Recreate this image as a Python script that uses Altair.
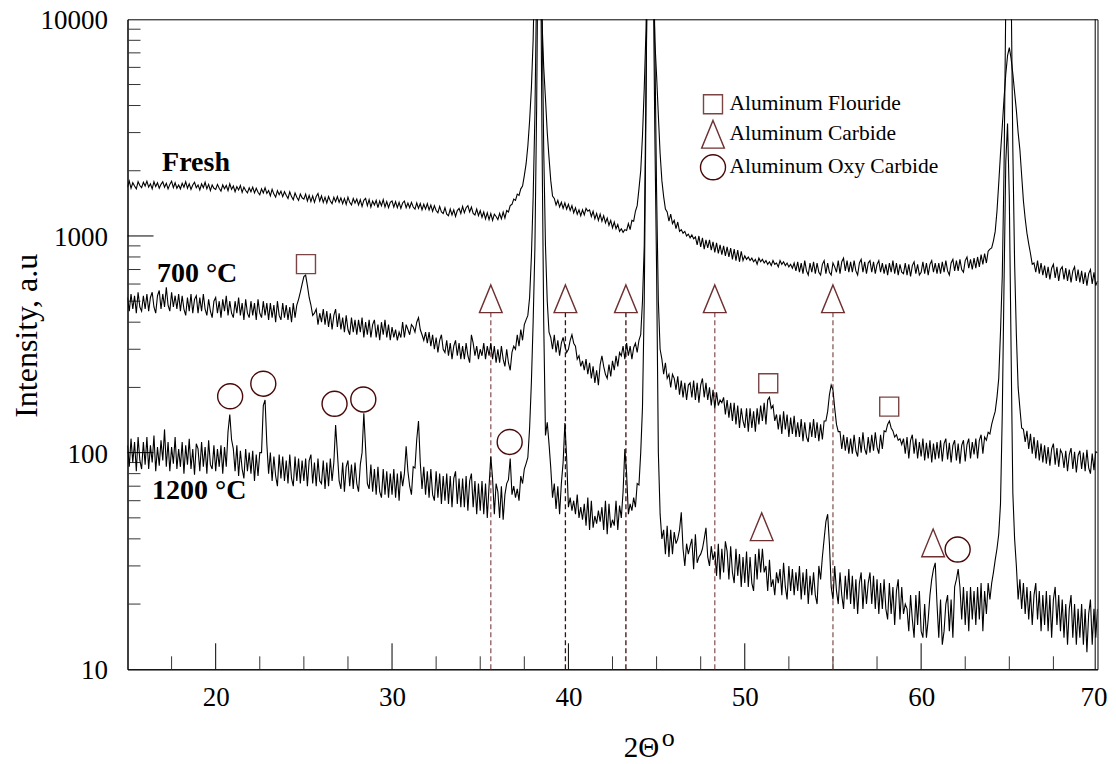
import altair as alt
import pandas as pd

# ---------------- data (0.1 degree steps from 15.0 to 70.0) ----------------
two_theta = [round(15 + i / 10, 1) for i in range(551)]

fresh = (
    [1680,1790,1660,1760,1700,1650,1780,1710,1670,1770] +  # 15
    [1700,1790,1680,1740,1650,1780,1690,1760,1660,1730] +  # 16
    [1780,1680,1750,1650,1730,1790,1670,1760,1660,1720] +  # 17
    [1650,1750,1680,1780,1660,1740,1640,1720,1770,1670] +  # 18
    [1720,1630,1740,1670,1770,1650,1730,1620,1720,1660] +  # 19
    [1640,1730,1660,1610,1720,1650,1710,1620,1740,1640] +  # 20
    [1700,1600,1690,1630,1710,1590,1680,1620,1580,1670] +  # 21
    [1600,1680,1580,1660,1590,1550,1650,1580,1670,1570] +  # 22
    [1620,1530,1640,1560,1510,1620,1550,1610,1520,1600] +  # 23
    [1540,1490,1600,1520,1470,1580,1510,1460,1560,1500] +  # 24
    [1480,1560,1450,1540,1440,1530,1430,1520,1570,1450] +  # 25
    [1530,1430,1510,1420,1520,1450,1410,1510,1440,1520] +  # 26
    [1430,1500,1410,1490,1400,1510,1430,1390,1490,1420] +  # 27
    [1480,1390,1470,1370,1460,1490,1380,1470,1360,1450] +  # 28
    [1390,1460,1350,1450,1380,1470,1360,1440,1350,1430] +  # 29
    [1450,1360,1440,1350,1430,1340,1420,1450,1350,1420] +  # 30
    [1350,1430,1360,1330,1420,1340,1410,1320,1400,1330] +  # 31
    [1410,1320,1390,1300,1380,1310,1280,1370,1290,1270] +  # 32
    [1350,1260,1240,1330,1250,1320,1230,1310,1340,1270] +  # 33
    [1370,1280,1350,1380,1290,1360,1270,1250,1330,1240] +  # 34
    [1310,1220,1290,1200,1280,1190,1270,1180,1260,1230] +  # 35
    [1190,1270,1200,1290,1210,1310,1290,1380,1400,1480] +  # 36
    [1460,1560,1540,1650,1700,1900,2150,2600,3400,4800] +  # 37
    [8000,20000,40000,40000,25000,10000,6000,4300,3000,2300] +  # 38
    [1800,1530,1490,1390,1460,1360,1430,1340,1420,1330] +  # 39
    [1400,1310,1380,1280,1350,1260,1320,1240,1320,1250] +  # 40
    [1340,1300,1320,1230,1300,1200,1270,1180,1260,1170] +  # 41
    [1240,1150,1210,1120,1180,1090,1160,1080,1130,1050] +  # 42
    [1080,1040,1070,1060,1140,1070,1180,1170,1300,1380] +  # 43
    [1650,2000,2900,4800,9000,25000,40000,40000,18000,8000] +  # 44
    [5500,3600,2400,1800,1520,1330,1290,1170,1260,1140] +  # 45
    [1180,1080,1160,1050,1070,1030,1050,1000,1020,980] +  # 46
    [1010,970,990,910,1000,890,980,870,960,880] +  # 47
    [960,860,940,840,930,830,910,820,900,810] +  # 48
    [890,800,880,780,870,770,860,760,850,770] +  # 49
    [810,780,800,770,790,760,780,740,790,760] +  # 50
    [780,750,770,740,760,730,770,740,750,720] +  # 51
    [770,740,760,730,750,720,740,710,750,690] +  # 52
    [760,680,750,670,770,690,660,750,680,760] +  # 53
    [670,750,680,660,740,770,670,750,680,660] +  # 54
    [750,720,680,770,670,760,790,690,770,680] +  # 55
    [760,680,770,690,660,750,780,680,760,670] +  # 56
    [750,770,680,760,670,740,770,680,750,670] +  # 57
    [740,660,750,680,770,670,750,660,740,680] +  # 58
    [670,750,660,740,650,730,760,670,740,660] +  # 59
    [680,760,670,750,660,740,770,680,750,670] +  # 60
    [750,670,760,680,770,690,660,750,780,690] +  # 61
    [770,690,780,700,680,770,800,710,780,700] +  # 62
    [790,710,800,720,820,740,830,750,850,870] +  # 63
    [880,950,1050,1300,1750,2400,3200,4300,5600,6800] +  # 64
    [7400,6600,5600,4600,3800,3000,2500,1900,1450,1200] +  # 65
    [1030,920,830,740,750,680,770,670,750,660] +  # 66
    [730,640,720,630,710,740,640,720,620,700] +  # 67
    [720,630,710,620,700,610,690,720,620,700] +  # 68
    [610,690,600,680,590,670,700,600,680,590] +  # 69
    [620]
)

c700 = (
    [520,450,540,460,530,440,550,470,450,530] +  # 15
    [460,540,450,520,550,470,440,530,560,460] +  # 16
    [540,470,580,480,450,550,470,530,460,540] +  # 17
    [450,530,460,430,520,450,540,440,510,530] +  # 18
    [440,520,450,540,460,430,510,450,420,500] +  # 19
    [520,440,500,420,510,450,530,430,500,440] +  # 20
    [420,500,440,520,430,490,410,510,440,420] +  # 21
    [500,430,490,410,510,440,420,500,430,490] +  # 22
    [410,490,420,480,400,500,430,410,490,420] +  # 23
    [480,410,470,400,490,420,480,510,550,600] +  # 24
    [650,660,590,520,480,430,440,460,390,440] +  # 25
    [400,460,390,450,380,440,370,430,460,380] +  # 26
    [440,370,420,360,430,370,350,420,360,410] +  # 27
    [350,410,360,420,340,400,350,410,340,390] +  # 28
    [410,340,390,330,400,350,410,340,390,330] +  # 29
    [380,340,370,330,360,340,400,340,390,370] +  # 30
    [350,390,380,360,400,420,370,350,330,360] +  # 31
    [320,360,310,350,300,340,290,330,350,300] +  # 32
    [290,330,280,320,270,310,330,280,320,270] +  # 33
    [310,270,320,280,260,350,320,280,310,270] +  # 34
    [300,280,320,270,310,280,320,270,310,260] +  # 35
    [300,260,310,270,250,300,260,240,290,310] +  # 36
    [300,350,310,370,330,390,410,430,520,800] +  # 37
    [1500,3600,15000,40000,40000,12000,2500,900,500,360] +  # 38
    [340,300,350,290,330,280,320,340,310,290] +  # 39
    [300,330,350,320,310,270,280,250,265,240] +  # 40
    [270,230,260,220,250,210,240,205,255,280] +  # 41
    [250,230,220,255,225,265,240,280,250,290] +  # 42
    [280,310,270,320,280,310,270,305,320,290] +  # 43
    [330,350,500,900,5000,30000,40000,40000,30000,8000] +  # 44
    [1600,500,300,270,230,260,220,230,200,230] +  # 45
    [220,195,225,185,215,180,210,175,205,210] +  # 46
    [180,215,175,210,170,205,220,180,210,175] +  # 47
    [200,165,195,160,190,165,175,170,180,150] +  # 48
    [175,145,170,140,170,135,165,130,160,140] +  # 49
    [130,160,125,160,130,155,125,160,135,165] +  # 50
    [140,170,135,175,180,160,165,140,150,128] +  # 51
    [150,122,155,128,150,118,145,122,148,118] +  # 52
    [138,118,143,113,138,118,112,138,118,143] +  # 53
    [117,138,113,135,115,140,140,155,185,205] +  # 54
    [195,160,135,125,125,104,121,102,118,99] +  # 55
    [116,99,121,102,96,118,100,124,104,98] +  # 56
    [118,100,121,102,124,106,99,121,104,126] +  # 57
    [125,135,140,130,126,118,121,114,116,109] +  # 58
    [116,99,118,94,114,121,99,116,94,112] +  # 59
    [96,116,92,111,94,114,90,110,93,112] +  # 60
    [94,114,91,110,116,93,111,90,108,114] +  # 61
    [92,110,89,108,114,91,109,116,94,112] +  # 62
    [98,116,94,114,121,99,118,114,124,122] +  # 63
    [135,145,155,180,220,360,650,2000,12000,40000] +  # 64
    [40000,15000,2500,750,350,200,160,130,128,112] +  # 65
    [126,104,122,99,118,94,114,92,110,90] +  # 66
    [108,89,106,87,104,110,88,105,86,103] +  # 67
    [99,85,102,82,98,105,84,101,81,97] +  # 68
    [102,84,100,82,103,85,80,99,83,101] +  # 69
    [100]
)

c1200 = (
    [108,86,116,90,112,82,118,92,84,112] +  # 15
    [88,118,84,108,90,120,82,106,87,114] +  # 16
    [92,128,86,112,82,106,89,118,84,104] +  # 17
    [86,112,80,108,88,116,84,104,79,110] +  # 18
    [104,82,112,86,106,80,114,88,84,108] +  # 19
    [82,104,86,108,80,106,86,125,150,115] +  # 20
    [104,82,108,78,102,84,76,104,82,100] +  # 21
    [80,102,74,98,78,100,100,165,175,110] +  # 22
    [80,100,74,96,78,70,98,76,96,74] +  # 23
    [92,72,98,76,70,96,74,94,72,92] +  # 24
    [74,94,70,92,98,72,90,70,94,74] +  # 25
    [72,92,68,90,70,94,74,90,134,100] +  # 26
    [74,68,90,66,86,92,70,88,68,90] +  # 27
    [72,66,88,100,152,105,72,68,88,66] +  # 28
    [84,64,86,66,62,84,64,82,62,80] +  # 29
    [64,84,62,80,60,82,70,80,107,82] +  # 30
    [70,64,86,85,115,140,90,68,86,64] +  # 31
    [82,62,84,64,60,82,62,80,58,78] +  # 32
    [60,80,58,78,56,76,82,58,76,56] +  # 33
    [76,56,78,54,74,80,56,74,52,72] +  # 34
    [54,74,52,72,50,70,96,76,52,72] +  # 35
    [66,50,70,49,64,72,75,94,64,70] +  # 36
    [62,68,60,78,72,84,89,95,130,210] +  # 37
    [400,880,4000,40000,40000,3000,400,120,138,110] +  # 38
    [85,62,72,55,70,52,72,90,137,95] +  # 39
    [56,62,54,60,52,64,50,56,49,58] +  # 40
    [46,62,44,60,45,51,47,54,48,56] +  # 41
    [44,60,42,58,45,49,46,60,44,57] +  # 42
    [50,66,104,80,52,58,54,62,56,72] +  # 43
    [71,100,162,500,4000,40000,40000,40000,20000,3000] +  # 44
    [700,100,52,40,44,34,46,33,44,34] +  # 45
    [43,38,40,44,53,36,30,38,34,37] +  # 46
    [40,29,42,31,33,34,36,40,45,33] +  # 47
    [30,37,32,35,27,38,26,36,28,39] +  # 48
    [35,26,37,28,25,36,27,34,24,33] +  # 49
    [25,35,24,33,25,23,34,26,36,28] +  # 50
    [36,28,30,23,32,24,26,22,28,25] +  # 51
    [29,22,31,24,21,30,23,29,22,28] +  # 52
    [23,30,21,28,22,29,20,27,22,28] +  # 53
    [22,20,30,26,33,40,48,52,38,24] +  # 54
    [21,30,23,20,28,22,19,27,21,29] +  # 55
    [20,27,19,26,18,25,28,19,26,20] +  # 56
    [25,28,20,27,19,26,18,25,19,26] +  # 57
    [19,17,25,18,24,16,23,26,17,24] +  # 58
    [18,20,19,15,22,17,14,22,16,23] +  # 59
    [15,14,20,14,17,22,26,29,31,20] +  # 60
    [14,21,13,15,20,22,15,21,14,24] +  # 61
    [26,29,24,17,24,16,23,15,24,17] +  # 62
    [23,16,24,17,25,15,23,18,25,21] +  # 63
    [25,28,32,36,42,58,150,600,2200,3300] +  # 64
    [1500,300,65,40,30,21,26,19,25,18] +  # 65
    [24,17,23,16,22,25,17,23,15,22] +  # 66
    [16,23,15,22,14,21,24,16,22,15] +  # 67
    [21,14,20,13,19,22,14,20,13,19] +  # 68
    [14,20,13,19,12,18,21,13,19,14] +  # 69
    [19]
)

series_names = ["Fresh", "700 °C", "1200 °C"]
series_label_x = [16.96, 16.67, 16.39]
series_label_y = [2173, 668, 66.6]

phase_names = ["Aluminum Flouride", "Aluminum Carbide", "Aluminum Oxy Carbide"]
fluoride_x = [25.12, 51.33, 58.19]
fluoride_y = [741, 209, 163]
carbide_x = [35.6, 39.83, 43.26, 48.3, 55.0, 50.96, 60.68]
carbide_y = [513, 513, 513, 513, 513, 45.5, 38.3]
oxycarbide_x = [20.82, 22.70, 26.74, 28.37, 36.67, 62.07]
oxycarbide_y = [182, 208, 168, 176, 112, 35.7]

guide_x = [35.6, 39.83, 43.26, 48.3, 55.0]
guide_top = [443, 443, 443, 443, 443]
guide_color = ["#8c5a5a", "#3d0c0c", "#3d0c0c", "#8c5a5a", "#8c5a5a"]

x_major = [20, 30, 40, 50, 60]
x_minor = [17.5, 22.5, 25, 27.5, 32.5, 35, 37.5, 42.5, 45, 47.5, 52.5, 55, 57.5, 62.5, 65, 67.5]
y_major = [100, 1000]
y_minor = [20, 30, 40, 50, 60, 70, 80, 90, 200, 300, 400, 500, 600, 700, 800, 900,
           2000, 3000, 4000, 5000, 6000, 7000, 8000, 9000]

for s in (fresh, c700, c1200):
    assert len(s) == len(two_theta)

# ---------------- tables ----------------
rows = []
for name, vals in zip(series_names, [fresh, c700, c1200]):
    for xv, yv in zip(two_theta, vals):
        rows.append({"series": name, "x": xv, "y": yv})
trace_df = pd.DataFrame(rows)

mk = []
for xs, ys, kind in [(fluoride_x, fluoride_y, phase_names[0]),
                     (carbide_x, carbide_y, phase_names[1]),
                     (oxycarbide_x, oxycarbide_y, phase_names[2])]:
    for xv, yv in zip(xs, ys):
        mk.append({"x": xv, "y": yv, "phase": kind})
marker_df = pd.DataFrame(mk)

guide_df = pd.DataFrame({"x": guide_x, "ylo": [10] * len(guide_x), "yhi": guide_top, "col": guide_color})
label_df = pd.DataFrame({"x": series_label_x, "y": series_label_y, "label": series_names})

FONT = "Liberation Serif"
xscale = alt.Scale(domain=[15, 70], nice=False, zero=False)
yscale = alt.Scale(type="log", domain=[10, 10000], nice=False)
xaxis = alt.Axis(values=[20, 30, 40, 50, 60, 70], ticks=False, grid=False, domainColor="black",
                 labelFont=FONT, labelFontSize=27, labelColor="black", labelPadding=15,
                 labelFlush=True, labelFlushOffset=9.5, title="2Θ", titleFont=FONT, titleFontSize=29,
                 titleFontWeight="normal", titleColor="black", titleX=495.8, titleY=87.5,
                 titleAlign="left", titleBaseline="alphabetic")
yaxis = alt.Axis(values=[10, 100, 1000, 10000], format="d", ticks=False, grid=False,
                 domainColor="black", labelFont=FONT, labelFontSize=27, labelColor="black",
                 labelPadding=20, labelOffset=1.5, labelFlush=False, title="Intensity, a.u",
                 titleFont=FONT, titleFontSize=32, titleFontWeight="normal", titleColor="black",
                 titleAngle=270, titleX=-101.5, titleY=316, titleAlign="center",
                 titleBaseline="middle")


def X(field):
    return alt.X(field, type="quantitative", scale=xscale, axis=xaxis)


def Y(field):
    return alt.Y(field, type="quantitative", scale=yscale, axis=yaxis)


H = 650
W = 970

tick_xmaj = alt.Chart(pd.DataFrame({"x": x_major})).mark_rule(color="black", strokeWidth=1).encode(
    x=X("x"), y=alt.value(H), y2=alt.value(H - 26))
tick_xmin = alt.Chart(pd.DataFrame({"x": x_minor})).mark_rule(color="#333333", strokeWidth=1).encode(
    x=X("x"), y=alt.value(H), y2=alt.value(H - 13))
tick_ymaj = alt.Chart(pd.DataFrame({"y": y_major})).mark_rule(color="black", strokeWidth=1).encode(
    y=Y("y"), x=alt.value(0), x2=alt.value(26))
tick_ymin = alt.Chart(pd.DataFrame({"y": y_minor})).mark_rule(color="#333333", strokeWidth=1).encode(
    y=Y("y"), x=alt.value(0), x2=alt.value(13))
right_edge = alt.Chart(pd.DataFrame({"x": [70]})).mark_rule(color="black", strokeWidth=1, xOffset=-2.3).encode(
    x=X("x"), y=alt.value(0), y2=alt.value(H))

guides = alt.Chart(guide_df).mark_rule(strokeDash=[5, 3], strokeWidth=1.3).encode(
    x=X("x"), y=Y("ylo"), y2="yhi", color=alt.Color("col:N", scale=None))

traces = alt.Chart(trace_df).mark_line(color="black", strokeWidth=1.1, clip=True).encode(
    x=X("x"), y=Y("y"), detail="series:N", order="x:Q")

sq_path = "M-0.76,-0.76L0.76,-0.76L0.76,0.76L-0.76,0.76Z"
tri_path = "M0,-1.108L0.908,1.108L-0.908,1.108Z"
legend = alt.Legend(orient="none", legendX=572, legendY=71.5, title=None, symbolSize=625,
                    symbolStrokeWidth=1.4, symbolFillColor="transparent", labelFont=FONT,
                    labelFontSize=21.5, labelColor="black", labelOffset=3, rowPadding=0,
                    padding=0, labelLimit=400)
markers = alt.Chart(marker_df).mark_point(filled=False, size=625, strokeWidth=1.4, opacity=1).encode(
    x=X("x"), y=Y("y"),
    shape=alt.Shape("phase:N", scale=alt.Scale(domain=phase_names, range=[sq_path, tri_path, "circle"]),
                    legend=legend),
    stroke=alt.Stroke("phase:N", scale=alt.Scale(domain=phase_names, range=["#7b4545", "#6e3030", "#4a0808"]),
                      legend=legend))

labels = alt.Chart(label_df).mark_text(align="left", baseline="middle", font=FONT, fontSize=28,
                                       fontWeight="bold", color="black").encode(
    x=X("x"), y=Y("y"), text="label:N")

sup = alt.Chart(pd.DataFrame({"t": ["o"]})).mark_text(align="left", baseline="alphabetic", font=FONT,
                                                     fontSize=26, color="black").encode(
    x=alt.value(534.2), y=alt.value(727), text="t:N")

chart = alt.layer(tick_xmaj, tick_xmin, tick_ymaj, tick_ymin, right_edge, guides, traces, markers,
                  labels, sup).properties(
    width=W, height=H,
    autosize=alt.AutoSizeParams(type="none"),
    padding={"left": 119.5, "top": 11.3, "right": 10, "bottom": 95},
).configure_view(stroke="black", strokeWidth=1)

chart.save("out.html", embed_options={"renderer": "svg", "actions": False})
